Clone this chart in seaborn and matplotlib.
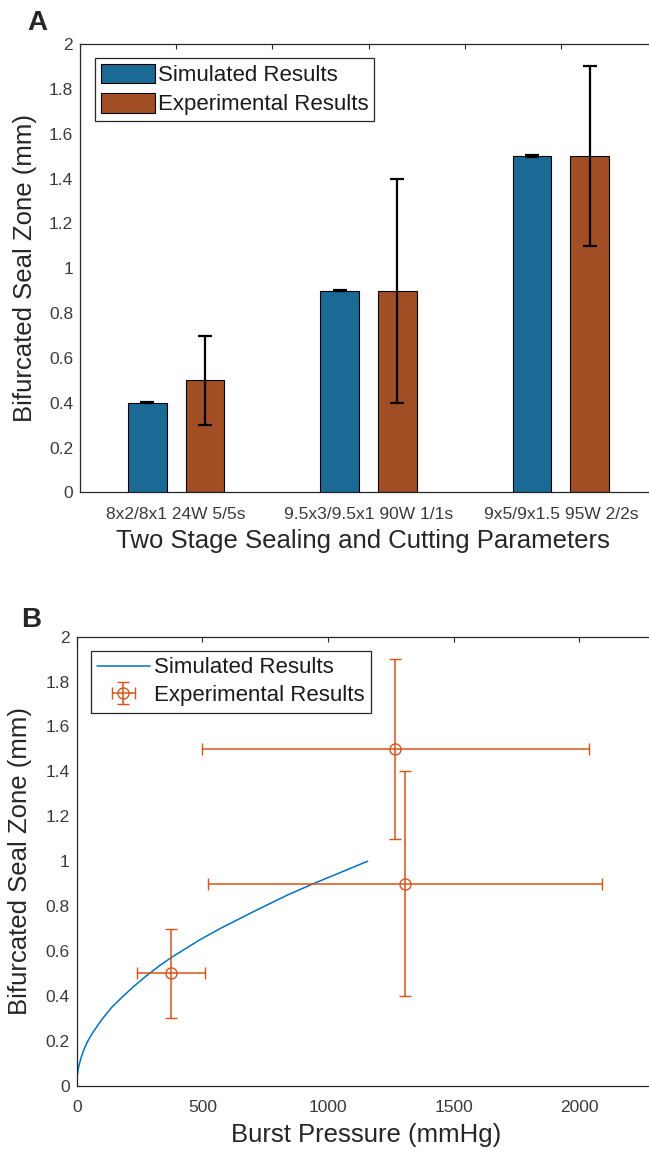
import numpy as np
import pandas as pd
import matplotlib
matplotlib.use("Agg")
import matplotlib.pyplot as plt
from matplotlib.patches import Patch
from matplotlib.lines import Line2D
import seaborn as sns

# ---------------- data ----------------
categories = ["8x2/8x1 24W 5/5s", "9.5x3/9.5x1 90W 1/1s", "9x5/9x1.5 95W 2/2s"]
series_names = ["Simulated Results", "Experimental Results"]
sim_values = [0.4, 0.9, 1.5]
sim_errors = [0.003, 0.003, 0.003]
exp_values = [0.5, 0.9, 1.5]
exp_errors = [0.2, 0.5, 0.4]

curve_x = [0, 1, 3, 7, 15, 25, 40, 60, 100, 140, 186, 230, 278, 330, 378,
           411, 490, 571, 650, 730, 840, 942, 1050, 1158]
curve_y = [0, 0.03, 0.05, 0.08, 0.115, 0.15, 0.19, 0.23, 0.295, 0.35, 0.40, 0.445,
           0.49, 0.535, 0.572, 0.595, 0.65, 0.70, 0.745, 0.79, 0.85, 0.90, 0.95, 1.00]

pt_x = [375, 1306, 1267]
pt_y = [0.5, 0.9, 1.5]
pt_xerr = [135, 785, 770]
pt_yerr = [0.2, 0.5, 0.4]

y_ticks = [0, 0.2, 0.4, 0.6, 0.8, 1.0, 1.2, 1.4, 1.6, 1.8, 2.0]
x_ticks_b = [0, 500, 1000, 1500, 2000]

# ---------------- style ----------------
sns.set_style("white")
plt.rcParams["font.family"] = ["Liberation Sans", "DejaVu Sans"]

BLUE = "#1b6a95"
ORANGE = "#a24e24"
LINE_BLUE = "#0072BD"
ERR_ORANGE = "#D95319"
AX_COL = "#262626"
TICK_COL = "#3a3a3a"

W, H = 649, 1155
fig = plt.figure(figsize=(W / 100, H / 100), dpi=100)


def px_axes(left, top, right, bottom):
    return fig.add_axes([left / W, 1 - bottom / H, (right - left) / W, (bottom - top) / H])


def style_axes(ax):
    for s in ax.spines.values():
        s.set_visible(True)
        s.set_color(AX_COL)
        s.set_linewidth(0.9)
    ax.spines["right"].set_visible(False)
    ax.tick_params(direction="in", top=True, right=True, length=3.6, width=0.8,
                   color=AX_COL, labelcolor=TICK_COL, labelsize=12.5)
    ax.tick_params(axis="x", pad=10.5)
    ax.tick_params(axis="y", pad=5)
    ax.set_yticks(y_ticks, labels=[f"{v:g}" for v in y_ticks])
    ax.set_ylim(0, 2)
    ax.grid(False)


# ---------------- panel A ----------------
axA = px_axes(80, 44, 657, 492.5)
df = pd.DataFrame({
    "cat": categories * 2,
    "series": [series_names[0]] * 3 + [series_names[1]] * 3,
    "val": sim_values + exp_values,
})
sns.barplot(data=df, x="cat", y="val", hue="series", order=categories,
            hue_order=series_names, palette=[BLUE, ORANGE], saturation=1,
            width=0.6, gap=0.33, errorbar=None, edgecolor="black",
            linewidth=0.8, legend=False, ax=axA)

for cont, errs in zip(axA.containers, [sim_errors, exp_errors]):
    xs = [b.get_x() + b.get_width() / 2 for b in cont]
    hs = [b.get_height() for b in cont]
    axA.errorbar(xs, hs, yerr=errs, fmt="none", ecolor="black",
                 elinewidth=1.6, capsize=5, capthick=1.6, zorder=5)

style_axes(axA)
axA.set_xlim(-0.5, 2.5)
axA.set_xticks([0, 0.5, 1, 1.5, 2], labels=[categories[0], "", categories[1], "", categories[2]])
axA.set_xlabel("Two Stage Sealing and Cutting Parameters", fontsize=18.5, color=AX_COL)
axA.set_ylabel("Bifurcated Seal Zone (mm)", fontsize=18.5, color=AX_COL)
axA.xaxis.set_label_coords(0.49, -0.081)
axA.yaxis.set_label_coords(-0.095, 0.5)
axA.yaxis.label.set_va("center")

legA = axA.legend(handles=[Patch(facecolor=BLUE, edgecolor="black", linewidth=0.8),
                           Patch(facecolor=ORANGE, edgecolor="black", linewidth=0.8)],
                  labels=series_names, loc="upper left",
                  bbox_to_anchor=(95 / W, 1 - 58 / H), bbox_transform=fig.transFigure,
                  borderaxespad=0, fontsize=16, frameon=True, fancybox=False,
                  framealpha=1, edgecolor=AX_COL, handlelength=2.45, handleheight=1.0,
                  handletextpad=0.12, labelspacing=0.3, borderpad=0.25)
legA.get_frame().set_linewidth(0.9)
for t in legA.get_texts():
    t.set_color("#1a1a1a")

# ---------------- panel B ----------------
axB = px_axes(76.7, 636.7, 654.7, 1085.7)
curve_df = pd.DataFrame({"x": curve_x, "y": curve_y})
sns.lineplot(data=curve_df, x="x", y="y", sort=False, estimator=None,
             color=LINE_BLUE, linewidth=1.1, ax=axB)
eb = axB.errorbar(pt_x, pt_y, xerr=pt_xerr, yerr=pt_yerr, fmt="o", color=ERR_ORANGE,
                  mfc="none", mec=ERR_ORANGE, ms=8, mew=1.0, elinewidth=1.1,
                  capsize=4, capthick=1.1, zorder=4)
style_axes(axB)
axB.set_xlim(0, 2300)
axB.set_xticks(x_ticks_b, labels=[f"{v:g}" for v in x_ticks_b])
axB.set_xlabel("Burst Pressure (mmHg)", fontsize=18.5, color=AX_COL)
axB.set_ylabel("Bifurcated Seal Zone (mm)", fontsize=18.5, color=AX_COL)
axB.xaxis.set_label_coords(0.5, -0.084)
axB.yaxis.set_label_coords(-0.098, 0.5)
axB.yaxis.label.set_va("center")

legB = axB.legend(handles=[Line2D([], [], color=LINE_BLUE, linewidth=1.1), eb],
                  labels=series_names, loc="upper left",
                  bbox_to_anchor=(90.7 / W, 1 - 650.7 / H), bbox_transform=fig.transFigure,
                  borderaxespad=0, fontsize=16, frameon=True, fancybox=False,
                  framealpha=1, edgecolor=AX_COL, handlelength=2.35,
                  handletextpad=0.2, labelspacing=0.3, borderpad=0.3)
legB.get_frame().set_linewidth(0.9)
for t in legB.get_texts():
    t.set_color("#1a1a1a")

# ---------------- panel letters ----------------
fig.text(27 / W, 1 - 30 / H, "A", fontsize=20, fontweight="bold", ha="left", va="baseline")
fig.text(21 / W, 1 - 627 / H, "B", fontsize=20, fontweight="bold", ha="left", va="baseline")

fig.savefig("out.png", dpi=100, facecolor="white")
